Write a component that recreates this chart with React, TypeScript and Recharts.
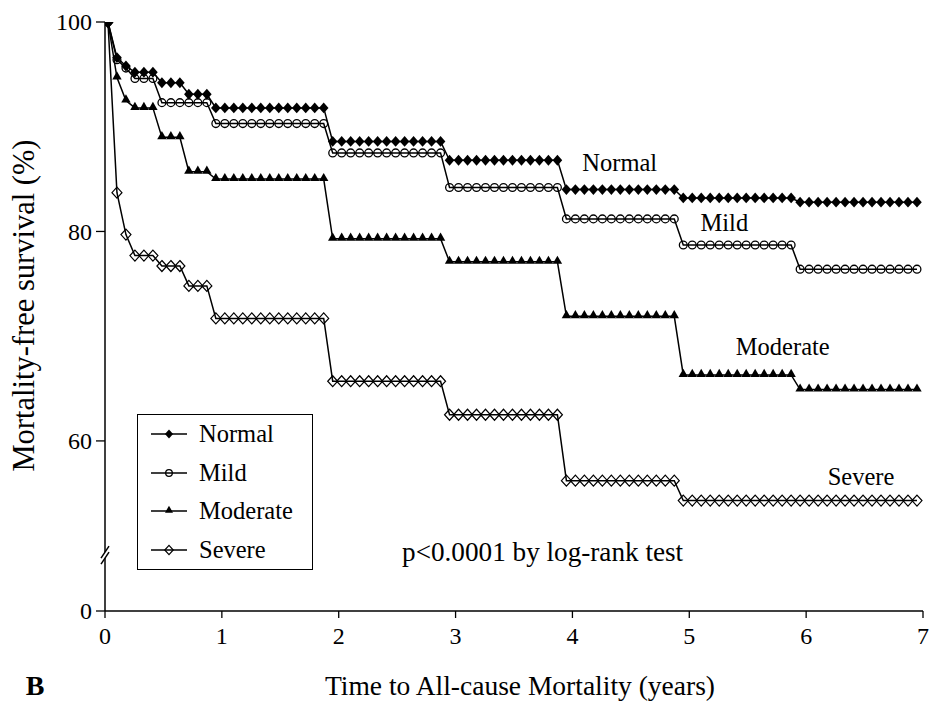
import React from 'react';
import { LineChart, Line, XAxis, YAxis, Legend, ReferenceDot } from 'recharts';

// survival (%) per sampling step, 13 steps a year
const normal = [
  100, 96.6, 95.8, 95.2, 95.2, 95.2, 94.2, 94.2, 94.2, 93.1, 93.1, 93.1,
  91.8, 91.8, 91.8, 91.8, 91.8, 91.8, 91.8, 91.8, 91.8, 91.8, 91.8, 91.8, 91.8,
  88.6, 88.6, 88.6, 88.6, 88.6, 88.6, 88.6, 88.6, 88.6, 88.6, 88.6, 88.6, 88.6,
  86.8, 86.8, 86.8, 86.8, 86.8, 86.8, 86.8, 86.8, 86.8, 86.8, 86.8, 86.8, 86.8,
  84.0, 84.0, 84.0, 84.0, 84.0, 84.0, 84.0, 84.0, 84.0, 84.0, 84.0, 84.0, 84.0,
  83.2, 83.2, 83.2, 83.2, 83.2, 83.2, 83.2, 83.2, 83.2, 83.2, 83.2, 83.2, 83.2,
  82.8, 82.8, 82.8, 82.8, 82.8, 82.8, 82.8, 82.8, 82.8, 82.8, 82.8, 82.8, 82.8, 82.8,
];
const mild = [
  100, 96.4, 95.6, 94.6, 94.6, 94.6, 92.3, 92.3, 92.3, 92.3, 92.3, 92.3,
  90.3, 90.3, 90.3, 90.3, 90.3, 90.3, 90.3, 90.3, 90.3, 90.3, 90.3, 90.3, 90.3,
  87.5, 87.5, 87.5, 87.5, 87.5, 87.5, 87.5, 87.5, 87.5, 87.5, 87.5, 87.5, 87.5,
  84.2, 84.2, 84.2, 84.2, 84.2, 84.2, 84.2, 84.2, 84.2, 84.2, 84.2, 84.2, 84.2,
  81.2, 81.2, 81.2, 81.2, 81.2, 81.2, 81.2, 81.2, 81.2, 81.2, 81.2, 81.2, 81.2,
  78.7, 78.7, 78.7, 78.7, 78.7, 78.7, 78.7, 78.7, 78.7, 78.7, 78.7, 78.7, 78.7,
  76.4, 76.4, 76.4, 76.4, 76.4, 76.4, 76.4, 76.4, 76.4, 76.4, 76.4, 76.4, 76.4, 76.4,
];
const moderate = [
  100, 94.7, 92.5, 91.8, 91.8, 91.8, 89.0, 89.0, 89.0, 85.7, 85.7, 85.7,
  85.0, 85.0, 85.0, 85.0, 85.0, 85.0, 85.0, 85.0, 85.0, 85.0, 85.0, 85.0, 85.0,
  79.3, 79.3, 79.3, 79.3, 79.3, 79.3, 79.3, 79.3, 79.3, 79.3, 79.3, 79.3, 79.3,
  77.1, 77.1, 77.1, 77.1, 77.1, 77.1, 77.1, 77.1, 77.1, 77.1, 77.1, 77.1, 77.1,
  71.9, 71.9, 71.9, 71.9, 71.9, 71.9, 71.9, 71.9, 71.9, 71.9, 71.9, 71.9, 71.9,
  66.3, 66.3, 66.3, 66.3, 66.3, 66.3, 66.3, 66.3, 66.3, 66.3, 66.3, 66.3, 66.3,
  64.9, 64.9, 64.9, 64.9, 64.9, 64.9, 64.9, 64.9, 64.9, 64.9, 64.9, 64.9, 64.9, 64.9,
];
const severe = [
  100, 83.7, 79.7, 77.7, 77.7, 77.7, 76.7, 76.7, 76.7, 74.8, 74.8, 74.8,
  71.7, 71.7, 71.7, 71.7, 71.7, 71.7, 71.7, 71.7, 71.7, 71.7, 71.7, 71.7, 71.7,
  65.7, 65.7, 65.7, 65.7, 65.7, 65.7, 65.7, 65.7, 65.7, 65.7, 65.7, 65.7, 65.7,
  62.5, 62.5, 62.5, 62.5, 62.5, 62.5, 62.5, 62.5, 62.5, 62.5, 62.5, 62.5, 62.5,
  56.2, 56.2, 56.2, 56.2, 56.2, 56.2, 56.2, 56.2, 56.2, 56.2, 56.2, 56.2, 56.2,
  54.3, 54.3, 54.3, 54.3, 54.3, 54.3, 54.3, 54.3, 54.3, 54.3, 54.3, 54.3, 54.3,
  54.3, 54.3, 54.3, 54.3, 54.3, 54.3, 54.3, 54.3, 54.3, 54.3, 54.3, 54.3, 54.3, 54.3,
];

const STEPS_PER_YEAR = 13;
const X_TICKS = [0, 1, 2, 3, 4, 5, 6, 7];
// broken y axis: the "0" tick sits at this value of the scale
const AXIS_ZERO = 43.76;
const Y_TICKS = [AXIS_ZERO, 60, 80, 100];
const BREAK_AT = 48.9;

const time = normal.map((_, i) => (i + 0.33) / STEPS_PER_YEAR);
const data = time.map((t, i) => ({
  t,
  normal: normal[i],
  mild: mild[i],
  moderate: moderate[i],
  severe: severe[i],
}));

const FONT = 'Liberation Serif';

type MarkProps = { cx?: number; cy?: number; s?: number };

const FilledDiamond = ({ cx = 0, cy = 0, s = 1 }: MarkProps) => (
  <polygon points={`${cx},${cy - 5.4 * s} ${cx + 4.8 * s},${cy} ${cx},${cy + 5.4 * s} ${cx - 4.8 * s},${cy}`} fill="#000" />
);
const OpenCircle = ({ cx = 0, cy = 0, s = 1 }: MarkProps) => (
  <circle cx={cx} cy={cy} r={3.9 * s} fill="none" stroke="#000" strokeWidth={1.3} />
);
const FilledTriangle = ({ cx = 0, cy = 0, s = 1 }: MarkProps) => (
  <polygon points={`${cx},${cy - 6.2 * s} ${cx + 4.7 * s},${cy + 2 * s} ${cx - 4.7 * s},${cy + 2 * s}`} fill="#000" />
);
const OpenDiamond = ({ cx = 0, cy = 0, s = 1 }: MarkProps) => (
  <polygon points={`${cx},${cy - 5.5 * s} ${cx + 5 * s},${cy} ${cx},${cy + 5.5 * s} ${cx - 5 * s},${cy}`} fill="none" stroke="#000" strokeWidth={1.2} />
);

// drawn back to front
const SERIES = [
  { key: 'severe', name: 'Severe', Mark: OpenDiamond },
  { key: 'moderate', name: 'Moderate', Mark: FilledTriangle },
  { key: 'mild', name: 'Mild', Mark: OpenCircle },
  { key: 'normal', name: 'Normal', Mark: FilledDiamond },
];
const LEGEND_ORDER = ['normal', 'mild', 'moderate', 'severe'];

const LABELS = [
  { text: 'Normal', t: 4.405, v: 86.6, size: 24.5 },
  { text: 'Mild', t: 5.3, v: 80.9, size: 24.5 },
  { text: 'Moderate', t: 5.8, v: 69.0, size: 24.5 },
  { text: 'Severe', t: 6.47, v: 56.6, size: 24.5 },
  { text: 'p<0.0001 by log-rank test', t: 3.745, v: 49.4, size: 27.2 },
];

const XTick = (props: any) => {
  const { x, y, payload } = props;
  return (
    <text x={x} y={y + 24} textAnchor="middle" fontFamily={FONT} fontSize={24} fill="#000">
      {payload.value}
    </text>
  );
};

const YTick = (props: any) => {
  const { x, y, payload } = props;
  const label = payload.value === AXIS_ZERO ? '0' : String(payload.value);
  return (
    <text x={x} y={y} dy="0.35em" textAnchor="end" fontFamily={FONT} fontSize={24} fill="#000">
      {label}
    </text>
  );
};

const renderLegend = () => (
  <div
    style={{
      width: 176,
      height: 156,
      boxSizing: 'border-box',
      border: '1.5px solid #000',
      background: '#fff',
      fontFamily: FONT,
      fontSize: 24.5,
      color: '#000',
    }}
  >
    {LEGEND_ORDER.map((k) => {
      const s = SERIES.find((d) => d.key === k)!;
      const M = s.Mark;
      return (
        <div key={k} style={{ height: 38.5, display: 'flex', alignItems: 'center' }}>
          <svg width={36} height={14} style={{ marginLeft: 13 }}>
            <line x1={0} y1={7} x2={36} y2={7} stroke="#000" strokeWidth={1.5} />
            <M cx={18} cy={7} s={0.85} />
          </svg>
          <span style={{ marginLeft: 12, lineHeight: 1 }}>{s.name}</span>
        </div>
      );
    })}
  </div>
);

const AxisBreak = (props: any) => {
  const { cx, cy } = props;
  return (
    <g>
      <polygon points={`${cx - 4},${cy + 1} ${cx + 4},${cy - 11} ${cx + 4},${cy - 5} ${cx - 4},${cy + 7}`} fill="#fff" />
      <line x1={cx - 4} y1={cy + 1} x2={cx + 4} y2={cy - 11} stroke="#000" strokeWidth={1.5} />
      <line x1={cx - 4} y1={cy + 7} x2={cx + 4} y2={cy - 5} stroke="#000" strokeWidth={1.5} />
    </g>
  );
};

export default function App() {
  return (
    <div style={{ position: 'absolute', left: 0, top: 0, width: 932, height: 705, background: '#fff', fontFamily: FONT }}>
      <LineChart width={932} height={705} data={data} margin={{ top: 22, right: 9, left: 5, bottom: 34 }} style={{ fontFamily: FONT }}>
        <XAxis
          dataKey="t"
          type="number"
          domain={[0, 7]}
          ticks={X_TICKS}
          allowDataOverflow
          height={60}
          stroke="#000"
          axisLine={{ stroke: '#000', strokeWidth: 1.5 }}
          tickLine={{ stroke: '#000', strokeWidth: 1.3 }}
          tickSize={7}
          tick={<XTick />}
          label={{
            content: (p: any) => {
              const vb = p.viewBox;
              return (
                <g>
                  <text x={vb.x + vb.width / 2 + 6} y={vb.y + 84} textAnchor="middle" fontFamily={FONT} fontSize={27.5} fill="#000">
                    Time to All-cause Mortality (years)
                  </text>
                  <text x={35} y={vb.y + 84} textAnchor="middle" fontFamily={FONT} fontSize={28} fontWeight="bold" fill="#000">
                    B
                  </text>
                </g>
              );
            },
          }}
        />
        <YAxis
          type="number"
          domain={[AXIS_ZERO, 100]}
          ticks={Y_TICKS}
          allowDataOverflow
          width={100}
          axisLine={{ stroke: '#000', strokeWidth: 1.5 }}
          tickLine={{ stroke: '#000', strokeWidth: 1.3 }}
          tickSize={9}
          tickMargin={4}
          tick={<YTick />}
          label={{
            content: (p: any) => {
              const vb = p.viewBox;
              const x = 34;
              const y = vb.y + vb.height / 2 - 11;
              return (
                <text x={x} y={y} transform={`rotate(-90, ${x}, ${y})`} textAnchor="middle" fontFamily={FONT} fontSize={30.5} fill="#000">
                  Mortality-free survival (%)
                </text>
              );
            },
          }}
        />
        <Legend
          layout="vertical"
          align="center"
          verticalAlign="middle"
          content={renderLegend}
          wrapperStyle={{ left: 137, top: 414, width: 176, height: 156 }}
        />
        {SERIES.map((s) => {
          const M = s.Mark;
          return (
            <Line
              key={s.key}
              dataKey={s.key}
              name={s.name}
              type="linear"
              stroke="#000"
              strokeWidth={1.5}
              isAnimationActive={false}
              dot={(p: any) => <M key={`${s.key}-${p.index}`} cx={p.cx} cy={p.cy} />}
              activeDot={false}
            />
          );
        })}
        {LABELS.map((l) => (
          <ReferenceDot
            key={l.text}
            x={l.t}
            y={l.v}
            ifOverflow="visible"
            shape={(p: any) => (
              <text x={p.cx} y={p.cy} textAnchor="middle" dominantBaseline="central" fontFamily={FONT} fontSize={l.size} fill="#000">
                {l.text}
              </text>
            )}
          />
        ))}
        <ReferenceDot x={0} y={BREAK_AT} ifOverflow="visible" shape={<AxisBreak />} />
      </LineChart>
    </div>
  );
}
